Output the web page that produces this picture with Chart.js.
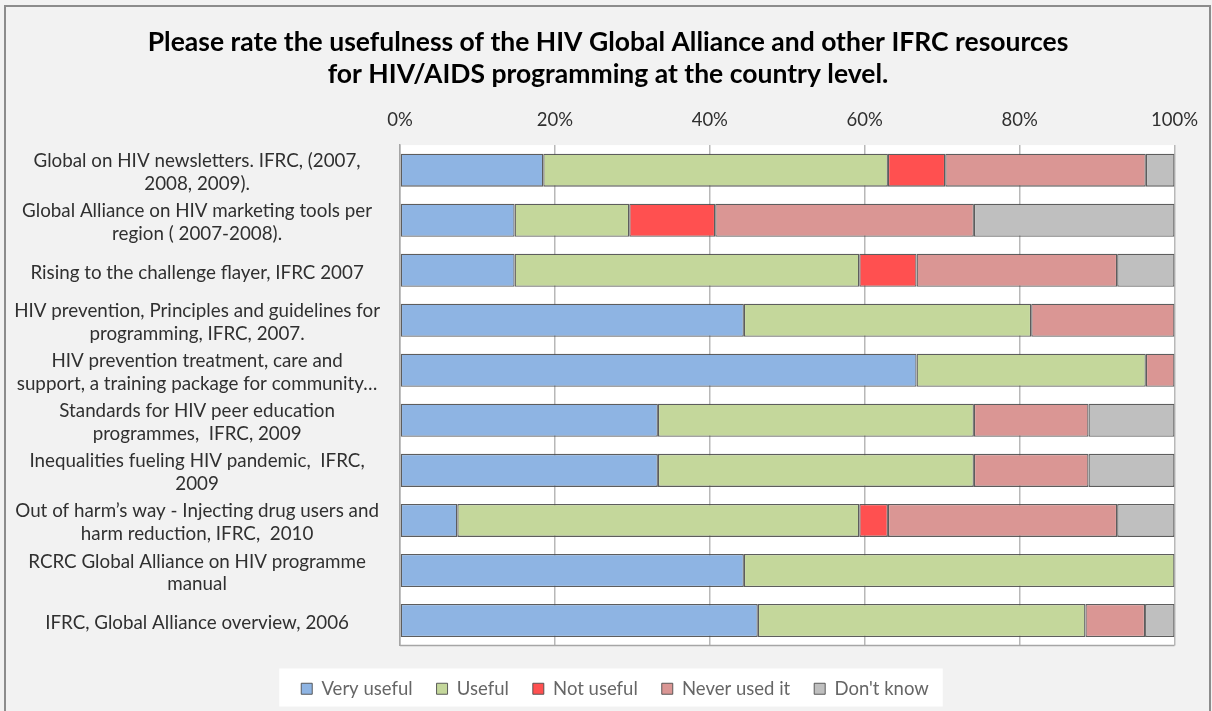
<!DOCTYPE html>
<html>
<head>
<meta charset="utf-8">
<script src="https://cdn.jsdelivr.net/npm/chart.js@4"></script>
<style>
html,body{margin:0;padding:0;background:#f2f2f2;overflow:hidden;}
#wrap{position:absolute;left:0;top:0;width:1212px;height:730px;}
</style>
</head>
<body>
<div id="wrap"><canvas id="c" width="1212" height="730"></canvas></div>
<script>
const categories = [
  ["Global on HIV newsletters. IFRC, (2007,", "2008, 2009)."],
  ["Global Alliance on HIV marketing tools per", "region ( 2007-2008)."],
  "Rising to the challenge flayer, IFRC 2007",
  ["HIV prevention, Principles and guidelines for", "programming, IFRC, 2007."],
  ["HIV prevention treatment, care and", "support, a training package for community…"],
  ["Standards for HIV peer education", "programmes,  IFRC, 2009"],
  ["Inequalities fueling HIV pandemic,  IFRC,", "2009"],
  ["Out of harm’s way - Injecting drug users and", "harm reduction, IFRC,  2010"],
  ["RCRC Global Alliance on HIV programme", "manual"],
  "IFRC, Global Alliance overview, 2006"
];
const seriesNames = ["Very useful", "Useful", "Not useful", "Never used it", "Don't know"];
const veryUseful = [18.5, 14.8, 14.8, 44.4, 66.7, 33.3, 33.3, 7.4, 44.4, 46.2];
const useful     = [44.5, 14.8, 44.5, 37.1, 29.6, 40.8, 40.8, 51.9, 55.6, 42.3];
const notUseful  = [7.4, 11.1, 7.4, 0, 0, 0, 0, 3.7, 0, 0];
const neverUsed  = [25.9, 33.4, 25.9, 18.5, 3.7, 14.8, 14.8, 29.6, 0, 7.7];
const dontKnow   = [3.7, 25.9, 7.4, 0, 0, 11.1, 11.1, 7.4, 0, 3.8];
const xTicks = ["0%", "20%", "40%", "60%", "80%", "100%"];
const titleLines = [
  "Please rate the usefulness of the HIV Global Alliance and other IFRC resources",
  "for HIV/AIDS programming at the country level."
];

const colors = ["#8eb4e3", "#c4d79b", "#ff5050", "#da9694", "#bfbfbf"];
const seriesData = [veryUseful, useful, notUseful, neverUsed, dontKnow];
const FONT = "Lato, 'Open Sans', sans-serif";

const bgPlugin = {
  id: 'bg',
  afterLayout(chart) {
    // centre title and legend on the frame like the original
    const tb = chart.titleBlock;
    if (tb) { tb.left += 17; tb.right += 17; }
    const lg = chart.legend;
    if (lg) { lg.left += 24; lg.right += 24; }
  },
  beforeDraw(chart) {
    const ctx = chart.ctx, a = chart.chartArea;
    ctx.save();
    ctx.fillStyle = '#f2f2f2';
    ctx.fillRect(0, 0, chart.width, chart.height);
    ctx.strokeStyle = '#8c8c8c';
    ctx.lineWidth = 2;
    ctx.strokeRect(5, 6, 1205, 760);
    ctx.fillStyle = '#ffffff';
    ctx.fillRect(a.left, a.top, a.right - a.left, a.bottom - a.top);
    const lg = chart.legend;
    if (lg && lg.legendHitBoxes && lg.legendHitBoxes.length) {
      const hb = lg.legendHitBoxes;
      const l = Math.min(...hb.map(h => h.left));
      const r = Math.max(...hb.map(h => h.left + h.width));
      const t = hb[0].top;
      ctx.fillStyle = '#ffffff';
      ctx.fillRect(l - 22, t - 11, (r - l) + 36, 38);
    }
    ctx.restore();
  },
  afterDatasetsDraw(chart) {
    const ctx = chart.ctx, a = chart.chartArea;
    ctx.save();
    ctx.strokeStyle = '#a6a6a6';
    ctx.lineWidth = 1.5;
    ctx.beginPath();
    ctx.moveTo(a.left, a.bottom);
    ctx.lineTo(a.right, a.bottom);
    ctx.stroke();
    ctx.restore();
  }
};

new Chart(document.getElementById('c'), {
  type: 'bar',
  data: {
    labels: categories,
    datasets: seriesNames.map((n, i) => ({
      label: n,
      data: seriesData[i],
      backgroundColor: colors[i],
      borderColor: 'rgba(75,75,75,0.9)',
      borderWidth: 1.3,
      borderSkipped: false,
      barPercentage: 0.66,
      categoryPercentage: 1.0
    }))
  },
  options: {
    indexAxis: 'y',
    responsive: false,
    animation: false,
    devicePixelRatio: 1,
    layout: { padding: { left: 6, right: 36, top: 26, bottom: 22 } },
    scales: {
      x: {
        position: 'top',
        stacked: true,
        min: 0, max: 100,
        afterBuildTicks(scale) {
          scale.ticks = xTicks.map((t, i) => ({ value: i * 20 }));
        },
        ticks: {
          callback: (v, i) => xTicks[i],
          color: '#303030',
          font: { family: FONT, size: 18.5 },
          padding: 14,
          maxRotation: 0
        },
        grid: { color: '#b8b8b8', lineWidth: 1.5, drawTicks: false },
        border: { display: false },
        afterFit(scale) { scale.height = 55; }
      },
      y: {
        stacked: true,
        grid: { display: false, drawTicks: false },
        border: { display: true, color: '#a6a6a6', width: 1.5 },
        ticks: {
          color: '#303030',
          font: { family: FONT, size: 18.8, lineHeight: 1.22 },
          crossAlign: 'center',
          padding: 20,
          labelOffset: 2.5,
          autoSkip: false
        },
        afterFit(scale) { scale.width = 394; }
      }
    },
    plugins: {
      title: {
        display: true,
        text: titleLines,
        color: '#000000',
        font: { family: FONT, size: 26.5, weight: 'bold', lineHeight: 1.21 },
        padding: { top: 0, bottom: 0 }
      },
      legend: {
        position: 'bottom',
        title: { display: true, text: '', padding: 0, font: { size: 10, lineHeight: 1 } },
        labels: {
          boxWidth: 11,
          boxHeight: 11,
          padding: 24,
          color: '#303030',
          font: { family: FONT, size: 18.5 },
          generateLabels(chart) {
            return chart.data.datasets.map((d, i) => ({
              text: d.label,
              fillStyle: d.backgroundColor,
              strokeStyle: 'rgba(75,75,75,0.9)',
              lineWidth: 1,
              datasetIndex: i,
              hidden: false
            }));
          }
        }
      },
      tooltip: { enabled: false }
    }
  },
  plugins: [bgPlugin]
});
</script>
</body>
</html>
